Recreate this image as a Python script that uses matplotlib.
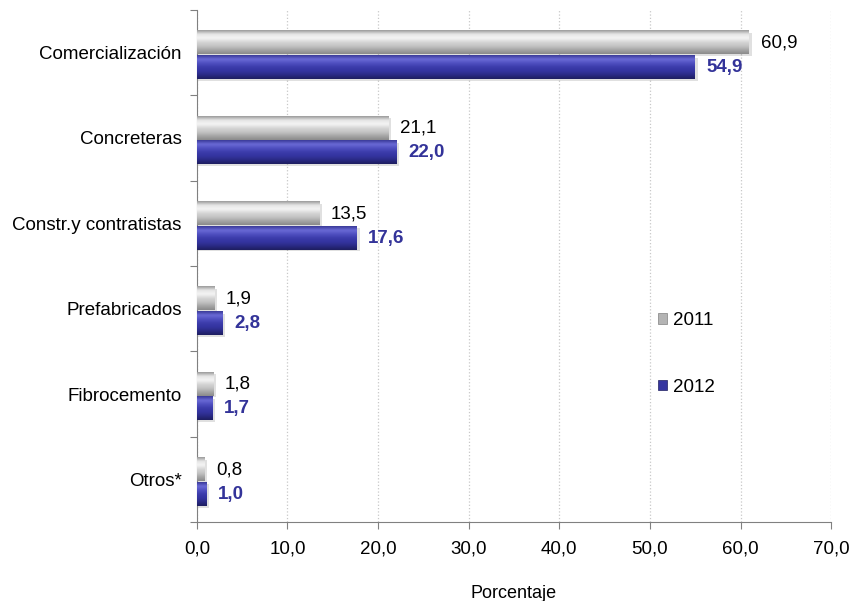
import numpy as np
import matplotlib
matplotlib.use('Agg')
import matplotlib.pyplot as plt
from matplotlib.colors import LinearSegmentedColormap
from matplotlib.patches import Patch

plt.rcParams['font.family'] = ['Liberation Sans', 'DejaVu Sans']

categories = ['Comercialización', 'Concreteras', 'Constr.y contratistas',
              'Prefabricados', 'Fibrocemento', 'Otros*']
vals_2011 = [60.9, 21.1, 13.5, 1.9, 1.8, 0.8]
vals_2012 = [54.9, 22.0, 17.6, 2.8, 1.7, 1.0]
series = ['2011', '2012']

# gradients, top -> bottom of each bar
cm_gray = LinearSegmentedColormap.from_list(
    'g', ['#9a9a9a', '#e6e6e6', '#f4f4f4', '#d6d6d6', '#c4c4c4', '#a6a6a6', '#8a8a8a'])
cm_blue = LinearSegmentedColormap.from_list(
    'b', ['#3a3a98', '#6a6ad6', '#5050c0', '#3c3cab', '#3434a0', '#2a2a84', '#1e1e60'])

fig = plt.figure(figsize=(8.56, 6.01), dpi=100)
ax = fig.add_axes((0.230, 0.1314, 0.741, 0.852))

fs = 13.5
h = 0.27
y = np.arange(len(categories))
grad = np.linspace(0, 1, 64).reshape(-1, 1)

for vals, off, cmap in [(vals_2011, -h / 2 + 0.02, cm_gray), (vals_2012, h / 2 + 0.04, cm_blue)]:
    for yi, v in zip(y, vals):
        top, bot = yi + off - h / 2, yi + off + h / 2
        # soft shadow
        ax.barh(yi + off + 0.02, v + 0.25, height=h, left=0.1, color='#000000', alpha=0.12,
                zorder=2, linewidth=0)
        ax.imshow(grad, cmap=cmap, aspect='auto', extent=[0, v, bot, top],
                  interpolation='bicubic', zorder=3)

for yi, v in zip(y, vals_2011):
    ax.annotate(f'{v:.1f}'.replace('.', ','), (v, yi - h / 2 + 0.02), xytext=(8.5, 0),
                textcoords='offset points', va='center', ha='left', fontsize=fs, color='black')
for yi, v in zip(y, vals_2012):
    ax.annotate(f'{v:.1f}'.replace('.', ','), (v, yi + h / 2 + 0.04), xytext=(8.5, 0),
                textcoords='offset points', va='center', ha='left', fontsize=fs,
                color='#333399', fontweight='bold')

ax.set_xlim(0, 70)
ax.set_ylim(len(categories) - 0.5, -0.5)
ax.set_xticks(np.arange(0, 71, 10))
ax.set_xticklabels([f'{t:.1f}'.replace('.', ',') for t in np.arange(0, 71, 10)], fontsize=fs)
ax.set_yticks(np.arange(-0.5, len(categories), 1))
ax.set_yticklabels([])
ax.set_yticks(y, minor=True)
ax.set_yticklabels(categories, minor=True, fontsize=fs)
ax.tick_params(axis='y', which='minor', length=0, pad=11)
ax.tick_params(axis='y', which='major', length=5, color='#808080')
ax.tick_params(axis='x', length=5, color='#808080', pad=8)
ax.grid(axis='x', linestyle=':', color='#c8c8c8', linewidth=0.9, zorder=0)
ax.set_axisbelow(True)
for s in ['top', 'right']:
    ax.spines[s].set_visible(False)
for s in ['left', 'bottom']:
    ax.spines[s].set_color('#808080')
ax.set_xlabel('Porcentaje', fontsize=13, labelpad=20)

handles = [Patch(facecolor='#b4b4b4', edgecolor='#808080', linewidth=0.5),
           Patch(facecolor='#3535a0', edgecolor='#202060', linewidth=0.5)]
ax.legend(handles, series, loc='upper left', bbox_to_anchor=(0.727, 0.41), frameon=False,
          fontsize=fs, handlelength=0.5, handleheight=0.5, handletextpad=0.3,
          labelspacing=2.65, borderpad=0, borderaxespad=0)

fig.savefig('out.png', dpi=100)
